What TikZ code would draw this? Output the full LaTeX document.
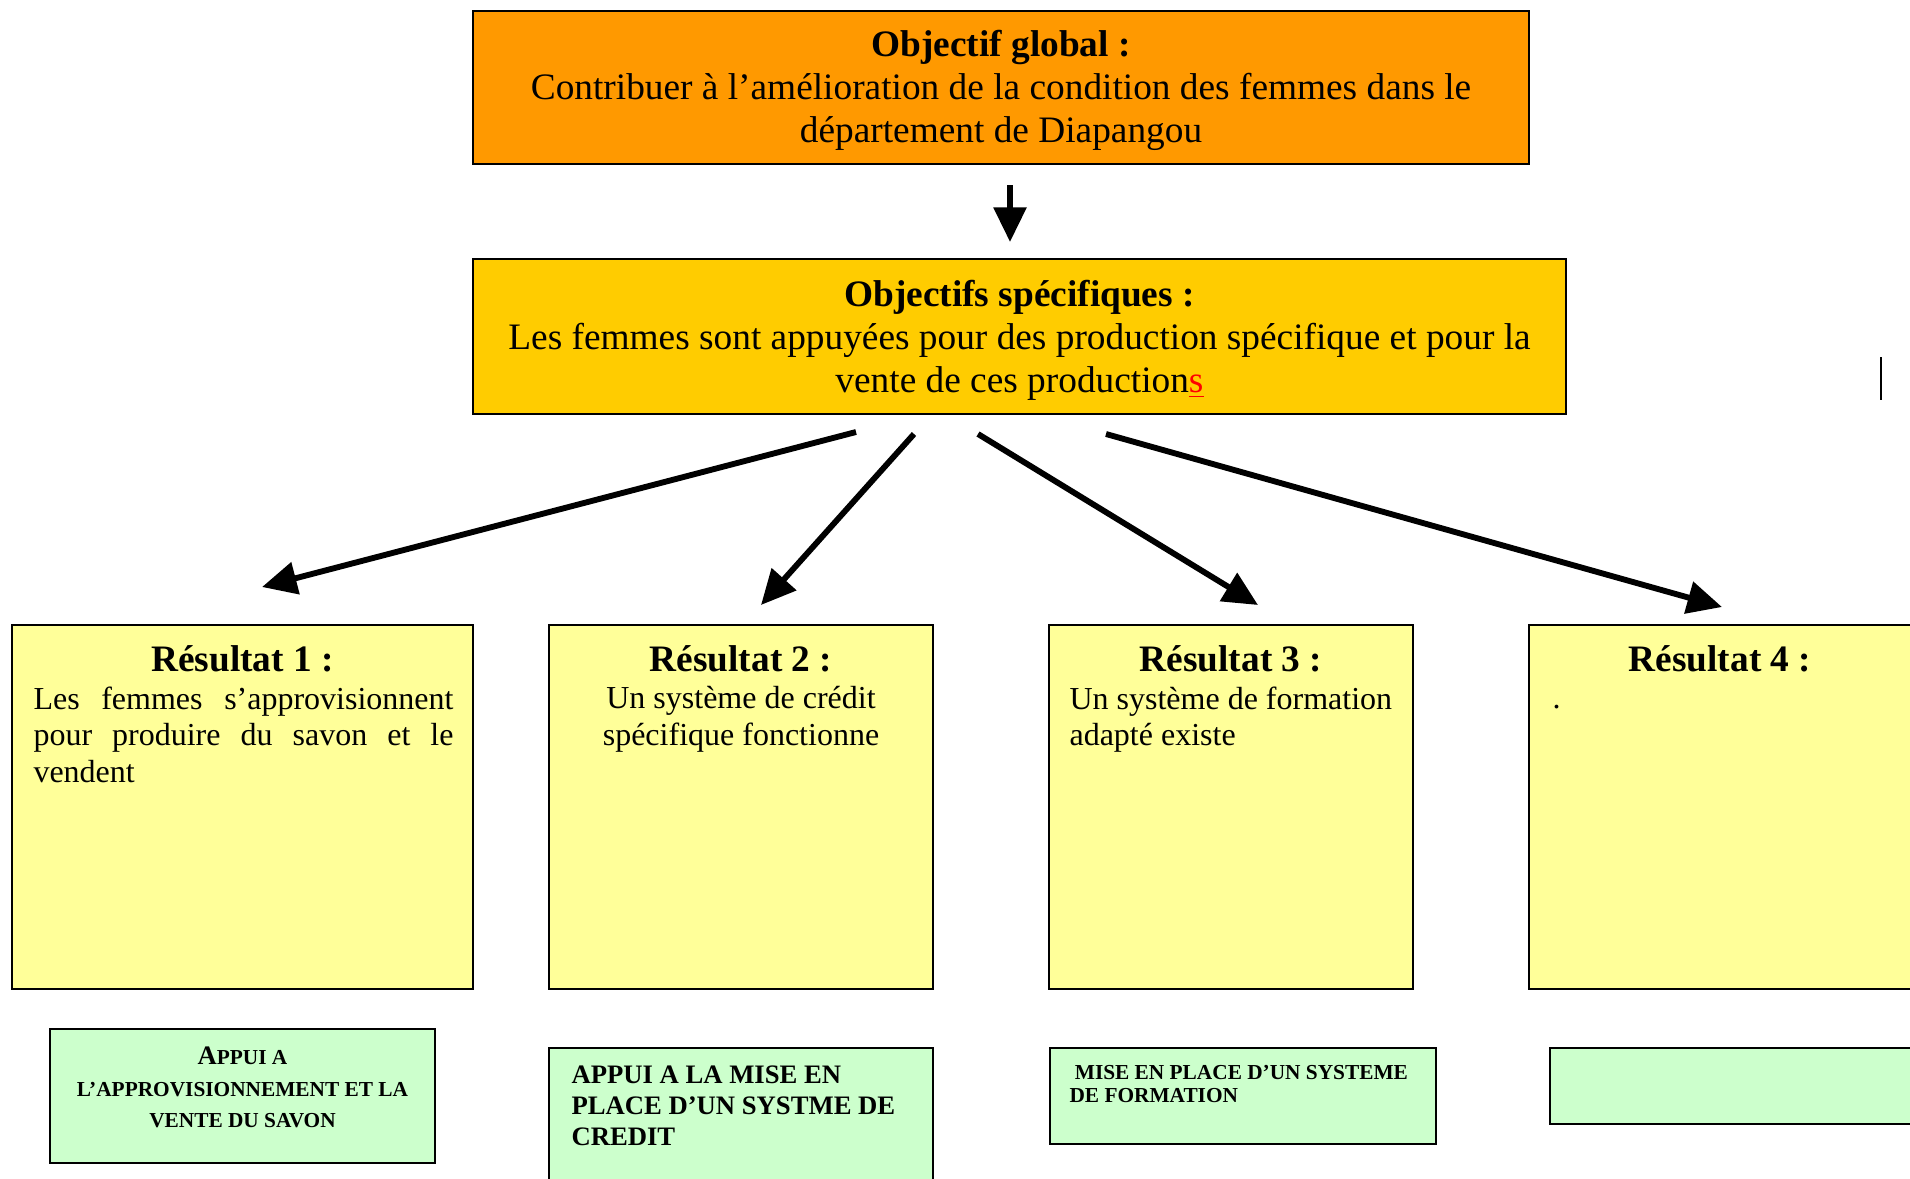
\documentclass[tikz,border=0pt]{standalone}
\usepackage{fontspec}
\setmainfont{Liberation Serif}
\usetikzlibrary{arrows.meta}

\definecolor{orangeobj}{HTML}{FF9900}
\definecolor{jauneobj}{HTML}{FFCC00}
\definecolor{jauneres}{HTML}{FFFF99}
\definecolor{vertact}{HTML}{CCFFCC}

\tikzset{
  boite/.style={draw, line width=0.8pt, inner sep=0pt},
  objtexte/.style={inner sep=0pt, align=center, font=\fontsize{14}{16.1}\selectfont},
  titre/.style={inner sep=0pt, font=\fontsize{14}{16}\selectfont\bfseries},
  texte/.style={inner sep=0pt, font=\fontsize{12}{13.7}\selectfont},
  fleche/.style={line width=2.2pt, -{Triangle[length=13pt,width=12pt]}}
}

\begin{document}
\begin{tikzpicture}[x=0.375pt, y=-0.375pt]
  \clip (0,0) rectangle (1910,1178);

  \node[boite, fill=orangeobj, minimum width=396pt, minimum height=57.4pt] (og) at (1001,87.5) {};
  \node[objtexte] (tog) at (1001,90.5)
        {\textbf{Objectif global :}\\Contribuer à l’amélioration de la condition des femmes dans le\\département de Diapangou};
  \node[boite, fill=jauneobj, minimum width=409.9pt, minimum height=58.1pt] (os) at (1019.5,336.5) {};
  \node[objtexte] (tos) at (1019.5,340.5)
        {\textbf{Objectifs spécifiques :}\\Les femmes sont appuyées pour des production spécifique et pour la\\vente de ces production{\color{red}\underline{s}}};

  % resultats
  \node[boite, fill=jauneres, minimum width=172.9pt, minimum height=136.5pt] (r1) at (242.5,807) {};
  \node[boite, fill=jauneres, minimum width=144pt, minimum height=136.5pt] (r2) at (741,807) {};
  \node[boite, fill=jauneres, minimum width=136.5pt, minimum height=136.5pt] (r3) at (1231,807) {};
  \node[boite, fill=jauneres, minimum width=144.8pt, minimum height=136.5pt] (r4) at (1722,807) {};

  \node[titre, anchor=base] (t1) at (242.5,671) {Résultat 1 :};
  \node[titre, anchor=base] (t2) at (741,671) {Résultat 2 :};
  \node[titre, anchor=base] (t3) at (1231,671) {Résultat 3 :};
  \node[titre, anchor=base] (t4) at (1720,671) {Résultat 4 :};

  \node[texte, anchor=north west, text width=157.5pt, align=justify] (c1) at (33,686)
        {Les femmes s’approvisionnent\linebreak pour produire du savon et le\linebreak vendent};
  \node[texte, anchor=north, align=center] (c2) at (741,686) {Un système de crédit\\spécifique fonctionne};
  \node[texte, anchor=north west, align=left] (c3) at (1069,686) {Un système de formation\\adapté existe};
  \node[texte, anchor=base west] (c4) at (1552,708) {.};

  % actions
  \node[boite, fill=vertact, minimum width=144.4pt, minimum height=50.25pt] (a1) at (242.5,1096) {};
  \node[boite, fill=vertact, minimum width=144pt, minimum height=57pt] (a2) at (741,1124) {};
  \node[boite, fill=vertact, minimum width=144.75pt, minimum height=36pt] (a3) at (1243,1096) {};
  \node[boite, fill=vertact, minimum width=150pt, minimum height=28.5pt] (a4) at (1750,1086) {};

  \node[inner sep=0pt, align=center, font=\fontsize{8}{11.8}\selectfont\bfseries] (x1) at (242.5,1087.5)
        {{\fontsize{10}{11.8}\selectfont A}PPUI A\\L’APPROVISIONNEMENT ET LA\\VENTE DU SAVON};
  \node[inner sep=0pt, anchor=north west, align=left, font=\fontsize{10}{11.6}\selectfont\bfseries] (x2) at (571,1065)
        {APPUI A LA MISE EN\\PLACE D’UN SYSTME DE\\CREDIT};
  \node[inner sep=0pt, anchor=north west, align=left, font=\fontsize{8}{8.6}\selectfont\bfseries] (x3) at (1069,1065)
        {\ MISE EN PLACE D’UN SYSTEME\\DE FORMATION};

  % fleches
  \coordinate (d0) at (1010,185);
  \coordinate (f0) at (1010,242);
  \coordinate (d1) at (856,432);
  \coordinate (f1) at (262,587);
  \coordinate (d2) at (914,434);
  \coordinate (f2) at (761,605);
  \coordinate (d3) at (978,434);
  \coordinate (f3) at (1258,605);
  \coordinate (d4) at (1106,434);
  \coordinate (f4) at (1722,607);

  \draw[fleche] (d0) -- (f0);
  \draw[fleche] (d1) -- (f1);
  \draw[fleche] (d2) -- (f2);
  \draw[fleche] (d3) -- (f3);
  \draw[fleche] (d4) -- (f4);

  \draw[line width=0.8pt] (1881,357) -- (1881,400);
\end{tikzpicture}
\end{document}
